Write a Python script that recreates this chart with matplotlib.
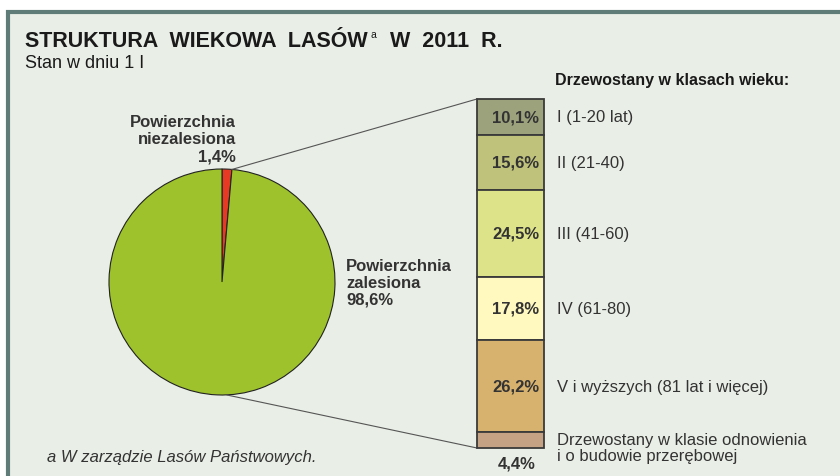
import matplotlib
matplotlib.use("Agg")
from matplotlib import pyplot as plt
from matplotlib.patches import Rectangle
import numpy as np

# pie: forested / non-forested area
pie_labels = ["Powierzchnia\nniezalesiona\n1,4%", "Powierzchnia\nzalesiona\n98,6%"]
pie_values = [1.4, 98.6]
pie_colors = ["#e63a25", "#9dc22b"]

# stacked bar: age classes
age_values = [10.1, 15.6, 24.5, 17.8, 26.2, 4.4]
age_texts = ["10,1%", "15,6%", "24,5%", "17,8%", "26,2%", "4,4%"]
age_labels = ["I (1-20 lat)", "II (21-40)", "III (41-60)", "IV (61-80)",
              "V i wyższych (81 lat i więcej)",
              "Drzewostany w klasie odnowienia\ni o budowie przerębowej"]
age_colors = ["#9ca27c", "#bfc27b", "#dde389", "#fff8bf", "#d7b26e", "#c5a283"]

bg = "#e9efe6"
txt = "#333333"
sans = ["Liberation Sans", "DejaVu Sans"]

W, H = 840, 477
fig = plt.figure(figsize=(W / 100, H / 100), dpi=100)
fig.patch.set_facecolor("white")

ax = fig.add_axes([0, 0, 1, 1])

# pie
cx, cy, r = 222, H - 283, 113
wedges, _ = ax.pie(pie_values, colors=pie_colors, startangle=90, counterclock=False,
                   center=(cx, cy), radius=r, frame=True,
                   wedgeprops=dict(edgecolor="#222222", linewidth=0.8))
ax.set_xlim(0, W)
ax.set_ylim(0, H)
ax.set_aspect("auto")
ax.axis("off")

# frame
ax.add_patch(Rectangle((8, -20), W + 20, H - 13 + 20, facecolor=bg,
                       edgecolor="#5f7c79", lw=3, zorder=0))

# titles, pieces placed one after another
rend = fig.canvas.get_renderer()
t1 = ax.text(25, H - 47, "STRUKTURA  WIEKOWA  LASÓW", fontsize=15.5, fontweight="bold",
             family=sans, color="#1a1a1a", va="baseline")
x_end = ax.transData.inverted().transform(t1.get_window_extent(rend))[1][0]
t2 = ax.text(x_end + 3, H - 38, "a", fontsize=7.5, family=sans, color="#1a1a1a",
             va="baseline")
x_end = ax.transData.inverted().transform(t2.get_window_extent(rend))[1][0]
ax.text(x_end + 14, H - 47, "W  2011  R.", fontsize=15.5, fontweight="bold",
        family=sans, color="#1a1a1a", va="baseline")
ax.text(25, H - 68, "Stan w dniu 1 I", fontsize=13, family=sans,
        color="#1a1a1a", va="baseline")
ax.text(555, H - 85, "Drzewostany w klasach wieku:", fontsize=11.5,
        fontweight="bold", family=sans, color="#1a1a1a", va="baseline")

ax.text(236, H - 164, pie_labels[0], fontsize=12, fontweight="bold", family=sans,
        color=txt, ha="right", va="bottom", linespacing=1.15)
ax.text(346, H - 283, pie_labels[1], fontsize=12, fontweight="bold", family=sans,
        color=txt, ha="left", va="center", linespacing=1.15)

# stacked bar in its own axes
bx0, bx1, by0, by1 = 477, 544, H - 449, H - 100
bax = fig.add_axes([bx0 / W, by0 / H, (bx1 - bx0) / W, (by1 - by0) / H])
total = sum(age_values)
bax.set_xlim(0, 1)
bax.set_ylim(total, 0)
bax.axis("off")
bottom = 0
for v, c, s, lab in zip(age_values, age_colors, age_texts, age_labels):
    bax.bar(0.5, v, width=1, bottom=bottom, color=c, edgecolor="#3a3a3a",
            linewidth=1.3, clip_on=False)
    mid = bottom + v / 2
    if v > 5:
        bax.text(0.93, mid, s, fontsize=12, fontweight="bold", family=sans,
                 color=txt, ha="right", va="center")
        bax.text(1.19, mid, lab, fontsize=12, family=sans, color=txt,
                 ha="left", va="center", transform=bax.get_yaxis_transform())
    else:
        bax.text(0.88, total + 4.1, s, fontsize=12, fontweight="bold",
                 family=sans, color=txt, ha="right", va="center", clip_on=False)
        bax.text(1.19, mid + 2.0, lab, fontsize=12, family=sans, color=txt,
                 ha="left", va="center", linespacing=1.1,
                 transform=bax.get_yaxis_transform())
    bottom += v

# connector lines from the red wedge to the bar
a1 = np.deg2rad(90 - 360 * pie_values[0] / 100)
ax.plot([cx + r * np.cos(a1), bx0], [cy + r * np.sin(a1), by1],
        color="#555555", lw=0.8)
ax.plot([cx + 5, bx0], [cy - r, by0], color="#555555", lw=0.8)

ax.text(47, H - 462, "a W zarządzie Lasów Państwowych.", fontsize=12,
        style="italic", family=sans, color=txt, va="baseline")

fig.savefig("out.png", dpi=100, facecolor=fig.get_facecolor())
